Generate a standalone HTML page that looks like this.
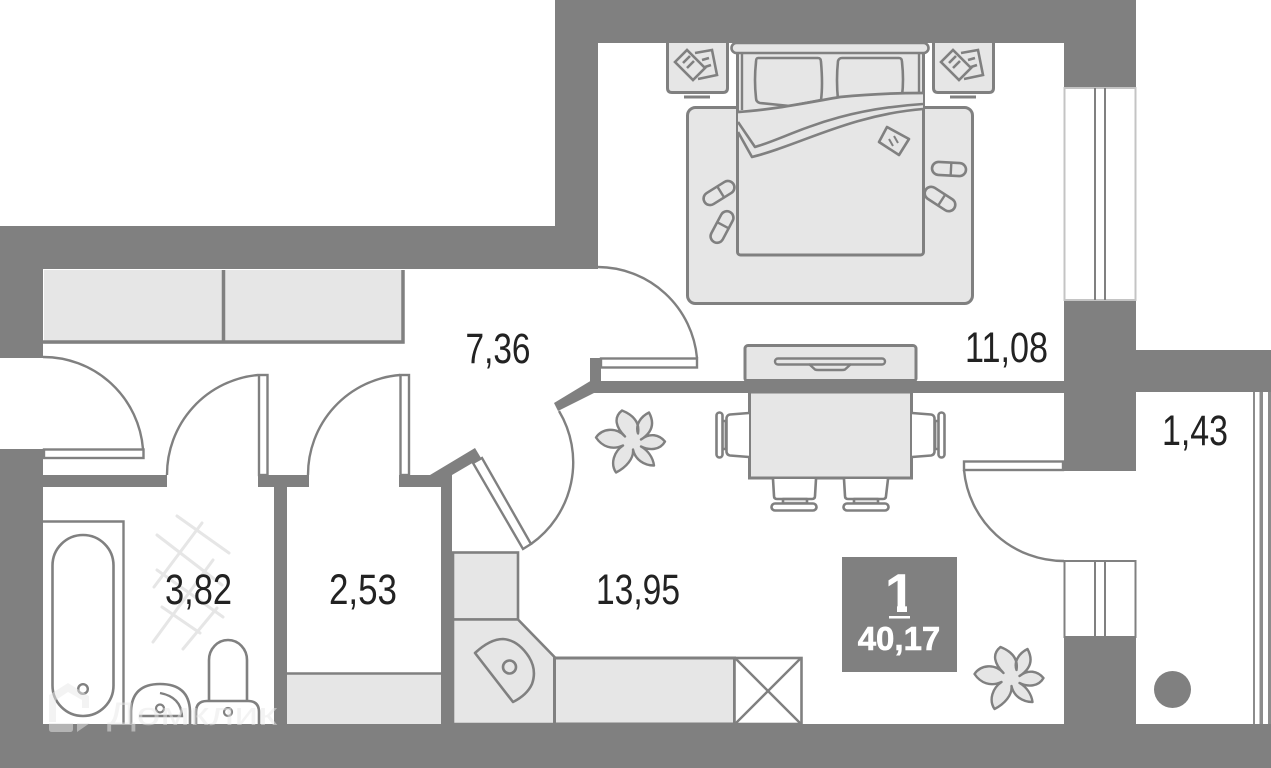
<!DOCTYPE html>
<html><head><meta charset="utf-8"><style>html,body{margin:0;padding:0;background:#fff}svg{display:block}</style></head><body>
<svg xmlns="http://www.w3.org/2000/svg" width="1271" height="768" viewBox="0 0 1271 768">
<defs>
<path id="fl" d="M-36,-4 C-30,-13 -16,-15 -7,-5 C-16,-14 -19,-24 -10,-31 C0,-27 8,-20 6,-8 C3,-17 9,-25 17,-29 C23,-18 20,-9 9,-2 C18,-9 27,-7 33,0 C28,9 17,9 9,5 C16,9 21,16 22,24 C12,24 3,18 1,8 C2,17 -6,26 -16,31 C-22,22 -18,10 -9,4 C-20,9 -30,5 -36,-4 Z" fill="#e6e6e6" stroke="#808080" stroke-width="2.4" stroke-linejoin="round"/>
<g id="book"><polygon points="695,53 712,50 717,75 698,79" fill="#e6e6e6"/><polygon points="675,62 687,50 705,68 693,80" fill="#e6e6e6"/><path d="M695,53 L712,50 L717,75 L698,79 M675,62 L687,50 L705,68 L693,80 Z M683,63 L690,56 M687,68 L694,61 M702,60 L709,58 M705,67 L711,65" fill="none" stroke="#808080" stroke-width="2.6"/></g>
<g id="sl"><rect x="-17" y="-6.500" width="34" height="13" rx="6.500" fill="#e6e6e6" stroke="#808080" stroke-width="2.600"/><path d="M2,-6.500 V6.500" stroke="#808080" stroke-width="2.400"/></g>
</defs>

<!-- tiles -->
<g stroke="#e6e6e6" stroke-width="3" stroke-linecap="round" fill="none">
<path d="M177,516 L229,553 M157,535 L222,585 M157,570 L223,617 M162,607 L200,633 M202,523 L154,587 M213,560 L153,642 M217,608 L183,649"/>
</g>

<!-- wardrobe -->
<rect x="44" y="270" width="360" height="74" fill="#e6e6e6"/>
<path d="M43,342 H403 V270 M223.500,270 V342" fill="none" stroke="#808080" stroke-width="3.500"/>

<!-- rug and bed -->
<rect x="687.500" y="107.500" width="285" height="196" rx="8" fill="#e6e6e6" stroke="#808080" stroke-width="3"/>
<rect x="737.500" y="50" width="186" height="205" rx="3" fill="#e6e6e6" stroke="#808080" stroke-width="3"/>
<path d="M742,52 V110 M919,52 V100" stroke="#808080" stroke-width="2.400" fill="none"/>
<rect x="731.500" y="43" width="197" height="10" rx="5" fill="#e6e6e6" stroke="#808080" stroke-width="2.600"/>
<path d="M758,58 H818 Q821,58 821,62 Q823,85 821,100 L790,106 L760,103 Q756,102 756,98 Q754,80 756,62 Q756,58 758,58 Z" fill="#e6e6e6" stroke="#808080" stroke-width="2.600"/>
<path d="M838,100 Q836,80 838,61 Q839,58 842,58 L899,58 Q902,58 902,62 Q904,80 902,96" fill="#e6e6e6" stroke="#808080" stroke-width="2.600"/>
<path d="M738,112 C770,110 800,104 840,97 C870,94 900,93 923,93 L923,108 C860,115 810,135 752,157 L738,132 Z" fill="#e6e6e6"/>
<path d="M738,112 C770,110 800,104 840,97 C870,94 900,93 923,93" fill="none" stroke="#808080" stroke-width="2.800"/>
<path d="M738,122 L755,147 C790,137 830,110 923,104 M738,132 L752,157 C800,145 850,115 923,109" fill="none" stroke="#808080" stroke-width="2.600" stroke-linejoin="round"/>
<polygon points="887,127 909,139 899,155 879,142" fill="#e6e6e6" stroke="#808080" stroke-width="2.600" stroke-linejoin="round"/>
<path d="M889,139 L893,146 M894,136 L898,143" stroke="#808080" stroke-width="2"/>
<g transform="translate(719,193) rotate(-32)"><use href="#sl"/></g>
<g transform="translate(722,227) rotate(-62)"><use href="#sl"/></g>
<g transform="translate(949,169) rotate(3)"><use href="#sl"/></g>
<g transform="translate(940,199) rotate(33)"><use href="#sl"/></g>

<!-- nightstands -->
<path d="M667.500,40 V88 Q667.500,92.500 672,92.500 H723 Q727.500,92.500 727.500,88 V40 Z" fill="#e6e6e6" stroke="#808080" stroke-width="3"/>
<path d="M933.500,40 V88 Q933.500,92.500 938,92.500 H989 Q993.500,92.500 993.500,88 V40 Z" fill="#e6e6e6" stroke="#808080" stroke-width="3"/>
<path d="M684,97 H710 M950,97 H976" stroke="#808080" stroke-width="3"/>
<use href="#book"/>
<use href="#book" transform="translate(266,0)"/>

<!-- doors leaves / arcs -->
<g fill="none" stroke="#808080" stroke-width="2.400">
<path d="M43,357 A100,100 0 0 1 143,449"/>
<path d="M258,375 A100,100 0 0 0 167,475"/>
<path d="M400,375 A100,100 0 0 0 308,475"/>
<path d="M598,267 A100,100 0 0 1 697,358"/>
<path d="M559,411 A100,100 0 0 1 531,544"/>
<path d="M964,470 A100,100 0 0 0 1064,561"/>
</g>
<g fill="#fff" stroke="#808080" stroke-width="2.400">
<rect x="44" y="449.500" width="99.500" height="8.500"/>
<rect x="259" y="375" width="8.500" height="100"/>
<rect x="400.500" y="375" width="8.500" height="100"/>
<rect x="601" y="358.500" width="96" height="9"/>
<polygon points="473,463 482,458 531,544 523,549"/>
<rect x="964" y="461.500" width="99" height="8.500"/>
</g>

<!-- walls -->
<g fill="#808080">
<rect x="555" y="0" width="581" height="43"/>
<rect x="555" y="0" width="43" height="269"/>
<rect x="0" y="226" width="598" height="43"/>
<rect x="0" y="226" width="43" height="132"/>
<rect x="0" y="449" width="43" height="319"/>
<rect x="0" y="724" width="1271" height="44"/>
<rect x="1064" y="43" width="72" height="45"/>
<rect x="1064" y="300" width="72" height="171"/>
<rect x="1064" y="637" width="72" height="131"/>
<rect x="1136" y="350" width="135" height="42"/>
<rect x="590" y="381" width="474" height="12"/>
<rect x="590" y="358" width="11" height="35"/>
<polygon points="592,380 554,403 558,411 594,393"/>
<rect x="43" y="475" width="124" height="12"/>
<rect x="258" y="475" width="51" height="12"/>
<rect x="274" y="475" width="13" height="249"/>
<rect x="399" y="475" width="42" height="12"/>
<polygon points="430,475 475,448 481,458 452,475 452,487 430,487"/>
<rect x="441" y="475" width="11" height="249"/>
</g>

<!-- windows -->
<g fill="#fff" stroke="#808080" stroke-width="2">
<rect x="1064.500" y="88" width="71" height="212" stroke="#c4c4c4"/>
<path d="M1095,88 V300 M1105,88 V300" fill="none"/>
<rect x="1064.500" y="561" width="71" height="76"/>
<path d="M1095,561 V637 M1105,561 V637" fill="none"/>
</g>
<g fill="#8c8c8c">
<rect x="1253" y="392" width="2" height="332"/>
<rect x="1259.500" y="392" width="3.500" height="332"/>
<rect x="1268" y="392" width="3" height="332"/>
</g>

<!-- bathroom -->
<path d="M43,521.500 H123.500 V724" fill="none" stroke="#808080" stroke-width="2.400"/>
<rect x="52.500" y="535" width="61" height="181" rx="30.500" fill="#fff" stroke="#808080" stroke-width="2.600"/>
<circle cx="83" cy="689" r="4.800" fill="#fff" stroke="#808080" stroke-width="2.400"/>
<path d="M131,724 V711 Q132,684 160,684 Q189,684 190,711 V724" fill="#fff" stroke="#808080" stroke-width="2.600"/>
<path d="M139,716 H182 Q181,697 160,693" fill="none" stroke="#808080" stroke-width="2.400"/>
<circle cx="160" cy="708.500" r="4" fill="#fff" stroke="#808080" stroke-width="2.200"/>
<path d="M209,700 V660 A19,20 0 0 1 247,660 V700" fill="#fff" stroke="#808080" stroke-width="2.600"/>
<path d="M196,724 V712 Q196,701 207,701 H248 Q259,701 259,712 V724" fill="#fff" stroke="#808080" stroke-width="2.600"/>
<circle cx="228" cy="712" r="4" fill="#fff" stroke="#808080" stroke-width="2.200"/>

<!-- closet shelf -->
<rect x="287" y="673" width="154" height="51" fill="#e6e6e6"/>
<path d="M287,673.500 H441" stroke="#808080" stroke-width="2.400"/>

<!-- kitchen -->
<rect x="453" y="552.500" width="65" height="67" fill="#e6e6e6" stroke="#808080" stroke-width="2.600"/>
<polygon points="453,619.500 518,619.500 554.500,657 554.500,724 453,724" fill="#e6e6e6" stroke="#808080" stroke-width="2.600"/>
<rect x="554.500" y="658" width="180" height="66" fill="#e6e6e6" stroke="#808080" stroke-width="3"/>
<rect x="734.500" y="658" width="67" height="66" fill="#fff" stroke="#808080" stroke-width="2.600"/>
<path d="M735,658 L801,724 M801,658 L735,724" stroke="#808080" stroke-width="2.400"/>
<path d="M475,653 Q490,639 503,639 Q518,640 529,657 Q537,670 532,684 Q527,695 513,702 Z" fill="#e6e6e6" stroke="#808080" stroke-width="2.600" stroke-linejoin="round"/>
<circle cx="509.500" cy="667" r="6.500" fill="none" stroke="#808080" stroke-width="2.600"/>

<!-- dining table and TV -->
<rect x="745" y="345.500" width="171" height="36" rx="3" fill="#e6e6e6" stroke="#808080" stroke-width="3"/>
<rect x="775" y="358.500" width="110" height="6" rx="3" fill="#e6e6e6" stroke="#808080" stroke-width="2.400"/>
<path d="M809,364 L815,369.500 Q816,370 818,370 H842 Q844,370 845,369.500 L851,364" fill="none" stroke="#808080" stroke-width="2.400"/>
<rect x="745" y="379" width="171" height="14" fill="#808080"/>
<rect x="749.500" y="392" width="162" height="86" fill="#e6e6e6" stroke="#808080" stroke-width="3"/>
<g fill="#fff" stroke="#808080" stroke-width="2.600" stroke-linejoin="round">
<path d="M749,413 L730,414.500 Q727,415 726.500,418 V452 Q727,455 730,455.500 L749,457"/>
<path d="M722,421 H726 V449 H722" fill="#e6e6e6"/>
<rect x="716.500" y="412.500" width="6" height="45" rx="3"/>
<path d="M912,413 L931,414.500 Q934,415 934.500,418 V452 Q934,455 931,455.500 L912,457"/>
<path d="M939,421 H935 V449 H939" fill="#e6e6e6"/>
<rect x="938.500" y="412.500" width="6" height="45" rx="3"/>
<path d="M773,479 L774,496 Q774,499 777,499 H812 Q815,499 815,496 L816,479"/>
<rect x="783" y="499" width="24" height="4.500" fill="#e6e6e6"/>
<rect x="771.500" y="503.500" width="45" height="7" rx="3.500"/>
<path d="M844,479 L845,496 Q845,499 848,499 H883 Q886,499 886,496 L888,479"/>
<rect x="854" y="499" width="24" height="4.500" fill="#e6e6e6"/>
<rect x="843.500" y="503.500" width="45" height="7" rx="3.500"/>
</g>

<!-- plants -->
<use href="#fl" transform="translate(632,441.500)"/>
<use href="#fl" transform="translate(1010.500,678)"/>

<!-- balcony dot -->
<circle cx="1172.500" cy="689.500" r="18.500" fill="#808080"/>

<!-- labels -->
<g font-family="'Liberation Sans',sans-serif" font-size="43" fill="#222">
<text x="465.500" y="363" textLength="65" lengthAdjust="spacingAndGlyphs">7,36</text>
<text x="965" y="362" textLength="83" lengthAdjust="spacingAndGlyphs">11,08</text>
<text x="1162" y="445" textLength="66" lengthAdjust="spacingAndGlyphs">1,43</text>
<text x="165" y="604" textLength="67" lengthAdjust="spacingAndGlyphs">3,82</text>
<text x="329" y="604" textLength="68" lengthAdjust="spacingAndGlyphs">2,53</text>
<text x="596" y="604" textLength="84" lengthAdjust="spacingAndGlyphs">13,95</text>
</g>

<!-- badge -->
<rect x="842" y="557" width="115" height="115" fill="#808080"/>
<text x="900" y="612" text-anchor="middle" font-family="'Liberation Sans',sans-serif" font-weight="700" font-size="55" fill="#fff">1</text>
<rect x="884" y="604" width="13" height="10" fill="#808080"/>
<rect x="907" y="604" width="10" height="10" fill="#808080"/>
<rect x="889" y="616" width="21" height="2.500" fill="#fff"/>
<text x="899" y="650" text-anchor="middle" font-family="'Liberation Sans',sans-serif" font-weight="700" font-size="33" fill="#fff" stroke="#fff" stroke-width="0.6">40,17</text>

<!-- watermark -->
<g opacity="0.5" fill="#e8e8e8">
<path d="M49,722 V695 L68,683 L89,696 V708 H82 V700 L68,692 L56,700 V722 Z"/>
<text x="107" y="725" font-family="'Liberation Sans',sans-serif" font-size="32" textLength="170" lengthAdjust="spacingAndGlyphs">Домклик</text>
<path d="M49,723 H73 V729 Q73,732 70,732 H52 Q49,732 49,729 Z"/>
<polygon points="77,723 90,723 77,732"/>
</g>
</svg>
</body></html>
